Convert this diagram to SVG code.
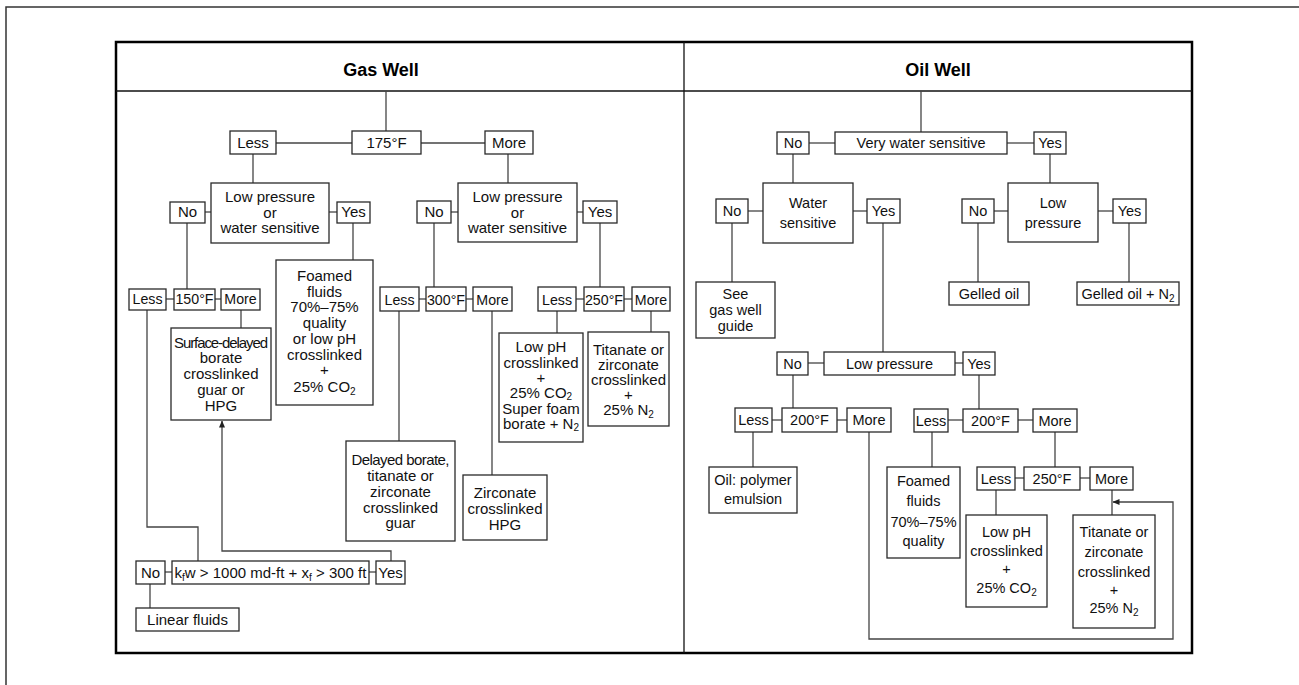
<svg xmlns="http://www.w3.org/2000/svg" width="1299" height="685" viewBox="0 0 1299 685">
  <style>
    .bx { fill: #fff; stroke: #2a2a2a; stroke-width: 1.3; }
    .ln { fill: none; stroke: #444; stroke-width: 1.3; }
    .t { font-family: "Liberation Sans", Arial, sans-serif; font-size: 15px; text-anchor: middle; fill: #111; }
    .o { font-size: 14.5px; }
    .s { font-size: 14.2px; }
    .h { font-family: "Liberation Sans", Arial, sans-serif; font-size: 18px; font-weight: bold; text-anchor: middle; fill: #000; }
    .sub { font-size: 10px; }
  </style>
  <defs>
    <marker id="ah" markerWidth="7" markerHeight="6" refX="6.5" refY="3" orient="auto" markerUnits="userSpaceOnUse">
      <path d="M0,0 L7,3 L0,6 Z" fill="#222"/>
    </marker>
  </defs>

  <rect width="1299" height="685" fill="#fff"/>

  <!-- page rule lines -->
  <path d="M6,685 V7 H1299" fill="none" stroke="#333" stroke-width="1.5"/>

  <!-- table frame -->
  <g id="frame">
    <rect x="116" y="42" width="1076" height="611" fill="none" stroke="#000" stroke-width="2.5"/>
    <line x1="116" y1="91" x2="1192" y2="91" stroke="#111" stroke-width="1.3"/>
    <line x1="684" y1="42" x2="684" y2="653" stroke="#111" stroke-width="1.3"/>
    <text class="h" x="381" y="76">Gas Well</text>
    <text class="h" x="938" y="76">Oil Well</text>
  </g>

  <!-- connectors -->
  <g id="connectors">
    <!-- gas well -->
    <path class="ln" d="M386,91 V131"/>
    <path class="ln" d="M276,143 H352"/>
    <path class="ln" d="M421,143 H485"/>
    <path class="ln" d="M253,154 V183"/>
    <path class="ln" d="M508,154 V183"/>
    <path class="ln" d="M205,212 H211"/>
    <path class="ln" d="M329,212 H337"/>
    <path class="ln" d="M353,223 V260"/>
    <path class="ln" d="M187,223 V289"/>
    <path class="ln" d="M166,299 H174"/>
    <path class="ln" d="M215,299 H221"/>
    <path class="ln" d="M241,310 V328"/>
    <path class="ln" d="M147,310 V527 H198 V561"/>
    <path class="ln" d="M391,561 V551 H222 V421" marker-end="url(#ah)"/>
    <path class="ln" d="M165,572 H172"/>
    <path class="ln" d="M369,572 H376"/>
    <path class="ln" d="M150,584 V608"/>
    <path class="ln" d="M451,212 H458"/>
    <path class="ln" d="M577,212 H583"/>
    <path class="ln" d="M434,223 V287"/>
    <path class="ln" d="M600,223 V287"/>
    <path class="ln" d="M419,299 H426"/>
    <path class="ln" d="M466,299 H473"/>
    <path class="ln" d="M576,299 H584"/>
    <path class="ln" d="M624,299 H632"/>
    <path class="ln" d="M399,311 V441"/>
    <path class="ln" d="M492,311 V475"/>
    <path class="ln" d="M557,311 V333"/>
    <path class="ln" d="M651,311 V332"/>
    <!-- oil well -->
    <path class="ln" d="M921,91 V132"/>
    <path class="ln" d="M809,143 H835"/>
    <path class="ln" d="M1007,143 H1034"/>
    <path class="ln" d="M793,154 V183"/>
    <path class="ln" d="M1050,154 V183"/>
    <path class="ln" d="M748,211 H763"/>
    <path class="ln" d="M853,211 H867"/>
    <path class="ln" d="M732,223 V282"/>
    <path class="ln" d="M883,223 V352"/>
    <path class="ln" d="M994,211 H1008"/>
    <path class="ln" d="M1098,211 H1113"/>
    <path class="ln" d="M978,223 V282"/>
    <path class="ln" d="M1129,223 V282"/>
    <path class="ln" d="M808,363 H824"/>
    <path class="ln" d="M955,363 H963"/>
    <path class="ln" d="M793,375 V408"/>
    <path class="ln" d="M979,375 V409"/>
    <path class="ln" d="M772,420 H782"/>
    <path class="ln" d="M837,420 H847"/>
    <path class="ln" d="M948,420 H963"/>
    <path class="ln" d="M1018,420 H1033"/>
    <path class="ln" d="M753,432 V467"/>
    <path class="ln" d="M869,432 V639 H1173 V502 H1113" marker-end="url(#ah)"/>
    <path class="ln" d="M932,432 V467"/>
    <path class="ln" d="M1055,432 V467"/>
    <path class="ln" d="M1015,478 H1024"/>
    <path class="ln" d="M1080,478 H1090"/>
    <path class="ln" d="M996,490 V515"/>
    <path class="ln" d="M1112,490 V515"/>
  </g>

  <!-- ===== Gas well nodes ===== -->
  <g id="g-175">
    <rect class="bx" x="352" y="131" width="69" height="23"/>
    <text class="t" x="386.5" y="148">175°F</text>
  </g>
  <g id="g-less1">
    <rect class="bx" x="230" y="131" width="46" height="23"/>
    <text class="t" x="253" y="148">Less</text>
  </g>
  <g id="g-more1">
    <rect class="bx" x="485" y="131" width="48" height="23"/>
    <text class="t" x="509" y="148">More</text>
  </g>
  <g id="g-lp1">
    <rect class="bx" x="211" y="183" width="118" height="60"/>
    <text class="t" x="270" y="202">Low pressure</text>
    <text class="t" x="270" y="218">or</text>
    <text class="t" x="270" y="233">water sensitive</text>
  </g>
  <g id="g-no1">
    <rect class="bx" x="170" y="202" width="35" height="21"/>
    <text class="t" x="187.5" y="217">No</text>
  </g>
  <g id="g-yes1">
    <rect class="bx" x="337" y="202" width="33" height="21"/>
    <text class="t" x="353.5" y="217">Yes</text>
  </g>
  <g id="g-foam">
    <rect class="bx" x="276" y="260" width="97" height="145"/>
    <text class="t" x="324.5" y="281">Foamed</text>
    <text class="t" x="324.5" y="297">fluids</text>
    <text class="t" x="324.5" y="312">70%–75%</text>
    <text class="t" x="324.5" y="328">quality</text>
    <text class="t" x="324.5" y="344">or low pH</text>
    <text class="t" x="324.5" y="360">crosslinked</text>
    <text class="t" x="324.5" y="375">+</text>
    <text class="t" x="324.5" y="392">25% CO<tspan class="sub" dy="2.5">2</tspan></text>
  </g>
  <g id="g-less150">
    <rect class="bx" x="129" y="289" width="37" height="21"/>
    <text class="t s" x="147.5" y="304">Less</text>
  </g>
  <g id="g-150">
    <rect class="bx" x="174" y="289" width="41" height="21"/>
    <text class="t s" x="194.5" y="304">150°F</text>
  </g>
  <g id="g-more150">
    <rect class="bx" x="221" y="289" width="39" height="21"/>
    <text class="t s" x="240.5" y="304">More</text>
  </g>
  <g id="g-surface">
    <rect class="bx" x="171" y="328" width="100" height="92"/>
    <text class="t" x="221" y="348" textLength="94" lengthAdjust="spacing">Surface-delayed</text>
    <text class="t" x="221" y="363">borate</text>
    <text class="t" x="221" y="379">crosslinked</text>
    <text class="t" x="221" y="395">guar or</text>
    <text class="t" x="221" y="411">HPG</text>
  </g>
  <g id="g-kfw">
    <rect class="bx" x="172" y="561" width="197" height="23"/>
    <text class="t" x="270.5" y="578">k<tspan class="sub" dy="2.5">f</tspan><tspan dy="-2.5">w &gt; 1000 md-ft + x</tspan><tspan class="sub" dy="2.5">f</tspan><tspan dy="-2.5"> &gt; 300 ft</tspan></text>
  </g>
  <g id="g-no-kfw">
    <rect class="bx" x="136" y="561" width="29" height="23"/>
    <text class="t" x="150.5" y="578">No</text>
  </g>
  <g id="g-yes-kfw">
    <rect class="bx" x="376" y="561" width="29" height="23"/>
    <text class="t" x="390.5" y="578">Yes</text>
  </g>
  <g id="g-linear">
    <rect class="bx" x="136" y="608" width="103" height="23"/>
    <text class="t" x="187.5" y="625">Linear fluids</text>
  </g>
  <g id="g-lp2">
    <rect class="bx" x="458" y="183" width="119" height="59"/>
    <text class="t" x="517.5" y="202">Low pressure</text>
    <text class="t" x="517.5" y="218">or</text>
    <text class="t" x="517.5" y="233">water sensitive</text>
  </g>
  <g id="g-no2">
    <rect class="bx" x="417" y="201" width="34" height="22"/>
    <text class="t" x="434" y="217">No</text>
  </g>
  <g id="g-yes2">
    <rect class="bx" x="583" y="201" width="34" height="22"/>
    <text class="t" x="600" y="217">Yes</text>
  </g>
  <g id="g-less300">
    <rect class="bx" x="380" y="287" width="39" height="24"/>
    <text class="t s" x="399.5" y="304.5">Less</text>
  </g>
  <g id="g-300">
    <rect class="bx" x="426" y="287" width="40" height="24"/>
    <text class="t s" x="446" y="304.5">300°F</text>
  </g>
  <g id="g-more300">
    <rect class="bx" x="473" y="287" width="39" height="24"/>
    <text class="t s" x="492.5" y="304.5">More</text>
  </g>
  <g id="g-less250">
    <rect class="bx" x="538" y="287" width="38" height="24"/>
    <text class="t s" x="557" y="304.5">Less</text>
  </g>
  <g id="g-250">
    <rect class="bx" x="584" y="287" width="40" height="24"/>
    <text class="t s" x="604" y="304.5">250°F</text>
  </g>
  <g id="g-more250">
    <rect class="bx" x="632" y="287" width="38" height="24"/>
    <text class="t s" x="651" y="304.5">More</text>
  </g>
  <g id="g-delayed">
    <rect class="bx" x="346" y="441" width="109" height="100"/>
    <text class="t" x="400.5" y="465" textLength="98" lengthAdjust="spacing">Delayed borate,</text>
    <text class="t" x="400.5" y="481">titanate or</text>
    <text class="t" x="400.5" y="497">zirconate</text>
    <text class="t" x="400.5" y="513">crosslinked</text>
    <text class="t" x="400.5" y="528">guar</text>
  </g>
  <g id="g-zirc">
    <rect class="bx" x="463" y="475" width="84" height="65"/>
    <text class="t" x="505" y="498">Zirconate</text>
    <text class="t" x="505" y="514">crosslinked</text>
    <text class="t" x="505" y="530">HPG</text>
  </g>
  <g id="g-lowph">
    <rect class="bx" x="499" y="333" width="84" height="109"/>
    <text class="t" x="541" y="352">Low pH</text>
    <text class="t" x="541" y="367.5">crosslinked</text>
    <text class="t" x="541" y="382.5">+</text>
    <text class="t" x="541" y="397.5">25% CO<tspan class="sub" dy="2">2</tspan></text>
    <text class="t" x="541" y="414">Super foam</text>
    <text class="t" x="541" y="429">borate + N<tspan class="sub" dy="2">2</tspan></text>
  </g>
  <g id="g-titan">
    <rect class="bx" x="588" y="332" width="81" height="94"/>
    <text class="t" x="628.5" y="355">Titanate or</text>
    <text class="t" x="628.5" y="370">zirconate</text>
    <text class="t" x="628.5" y="385">crosslinked</text>
    <text class="t" x="628.5" y="400">+</text>
    <text class="t" x="628.5" y="415">25% N<tspan class="sub" dy="2.5">2</tspan></text>
  </g>

  <!-- ===== Oil well nodes ===== -->
  <g id="o-vws">
    <rect class="bx" x="835" y="132" width="172" height="22"/>
    <text class="t o" x="921" y="148">Very water sensitive</text>
  </g>
  <g id="o-no1">
    <rect class="bx" x="777" y="132" width="32" height="22"/>
    <text class="t o" x="793" y="148">No</text>
  </g>
  <g id="o-yes1">
    <rect class="bx" x="1034" y="132" width="32" height="22"/>
    <text class="t o" x="1050" y="148">Yes</text>
  </g>
  <g id="o-ws">
    <rect class="bx" x="763" y="183" width="90" height="60"/>
    <text class="t o" x="808" y="208">Water</text>
    <text class="t o" x="808" y="228">sensitive</text>
  </g>
  <g id="o-no2">
    <rect class="bx" x="716" y="199" width="32" height="24"/>
    <text class="t o" x="732" y="216">No</text>
  </g>
  <g id="o-yes2">
    <rect class="bx" x="867" y="199" width="33" height="24"/>
    <text class="t o" x="883.5" y="216">Yes</text>
  </g>
  <g id="o-see">
    <rect class="bx" x="696" y="282" width="79" height="56"/>
    <text class="t o" x="735.5" y="299">See</text>
    <text class="t o" x="735.5" y="315">gas well</text>
    <text class="t o" x="735.5" y="331">guide</text>
  </g>
  <g id="o-lp1">
    <rect class="bx" x="1008" y="183" width="90" height="59"/>
    <text class="t o" x="1053" y="208">Low</text>
    <text class="t o" x="1053" y="228">pressure</text>
  </g>
  <g id="o-no3">
    <rect class="bx" x="962" y="199" width="32" height="24"/>
    <text class="t o" x="978" y="216">No</text>
  </g>
  <g id="o-yes3">
    <rect class="bx" x="1113" y="199" width="33" height="24"/>
    <text class="t o" x="1129.5" y="216">Yes</text>
  </g>
  <g id="o-gelled">
    <rect class="bx" x="949" y="282" width="80" height="23"/>
    <text class="t o" x="989" y="299">Gelled oil</text>
  </g>
  <g id="o-gelledn2">
    <rect class="bx" x="1077" y="282" width="102" height="23"/>
    <text class="t o" x="1128" y="299">Gelled oil + N<tspan class="sub" dy="2.5">2</tspan></text>
  </g>
  <g id="o-lp2">
    <rect class="bx" x="824" y="352" width="131" height="23"/>
    <text class="t o" x="889.5" y="368.5">Low pressure</text>
  </g>
  <g id="o-no4">
    <rect class="bx" x="777" y="352" width="31" height="23"/>
    <text class="t o" x="792.5" y="368.5">No</text>
  </g>
  <g id="o-yes4">
    <rect class="bx" x="963" y="352" width="32" height="23"/>
    <text class="t o" x="979" y="368.5">Yes</text>
  </g>
  <g id="o-less200a">
    <rect class="bx" x="735" y="408" width="37" height="24"/>
    <text class="t o" x="753.5" y="425">Less</text>
  </g>
  <g id="o-200a">
    <rect class="bx" x="782" y="408" width="55" height="24"/>
    <text class="t o" x="809.5" y="425">200°F</text>
  </g>
  <g id="o-more200a">
    <rect class="bx" x="847" y="408" width="44" height="24"/>
    <text class="t o" x="869" y="425">More</text>
  </g>
  <g id="o-polymer">
    <rect class="bx" x="709" y="467" width="88" height="46"/>
    <text class="t o" x="753" y="485">Oil: polymer</text>
    <text class="t o" x="753" y="504">emulsion</text>
  </g>
  <g id="o-less200b">
    <rect class="bx" x="914" y="409" width="34" height="23"/>
    <text class="t o" x="931" y="425.5">Less</text>
  </g>
  <g id="o-200b">
    <rect class="bx" x="963" y="409" width="55" height="23"/>
    <text class="t o" x="990.5" y="425.5">200°F</text>
  </g>
  <g id="o-more200b">
    <rect class="bx" x="1033" y="409" width="44" height="23"/>
    <text class="t o" x="1055" y="425.5">More</text>
  </g>
  <g id="o-foam">
    <rect class="bx" x="887" y="467" width="73" height="91"/>
    <text class="t o" x="923.5" y="486">Foamed</text>
    <text class="t o" x="923.5" y="506">fluids</text>
    <text class="t o" x="923.5" y="527">70%–75%</text>
    <text class="t o" x="923.5" y="546">quality</text>
  </g>
  <g id="o-less250">
    <rect class="bx" x="977" y="467" width="38" height="23"/>
    <text class="t o" x="996" y="483.5">Less</text>
  </g>
  <g id="o-250">
    <rect class="bx" x="1024" y="467" width="56" height="23"/>
    <text class="t o" x="1052" y="483.5">250°F</text>
  </g>
  <g id="o-more250">
    <rect class="bx" x="1090" y="467" width="43" height="23"/>
    <text class="t o" x="1111.5" y="483.5">More</text>
  </g>
  <g id="o-lowph">
    <rect class="bx" x="966" y="515" width="81" height="92"/>
    <text class="t o" x="1006.5" y="537">Low pH</text>
    <text class="t o" x="1006.5" y="556">crosslinked</text>
    <text class="t o" x="1006.5" y="574">+</text>
    <text class="t o" x="1006.5" y="593">25% CO<tspan class="sub" dy="2.5">2</tspan></text>
  </g>
  <g id="o-titan">
    <rect class="bx" x="1073" y="515" width="82" height="113"/>
    <text class="t o" x="1114" y="537">Titanate or</text>
    <text class="t o" x="1114" y="557">zirconate</text>
    <text class="t o" x="1114" y="577">crosslinked</text>
    <text class="t o" x="1114" y="595">+</text>
    <text class="t o" x="1114" y="613">25% N<tspan class="sub" dy="2.5">2</tspan></text>
  </g>
</svg>
